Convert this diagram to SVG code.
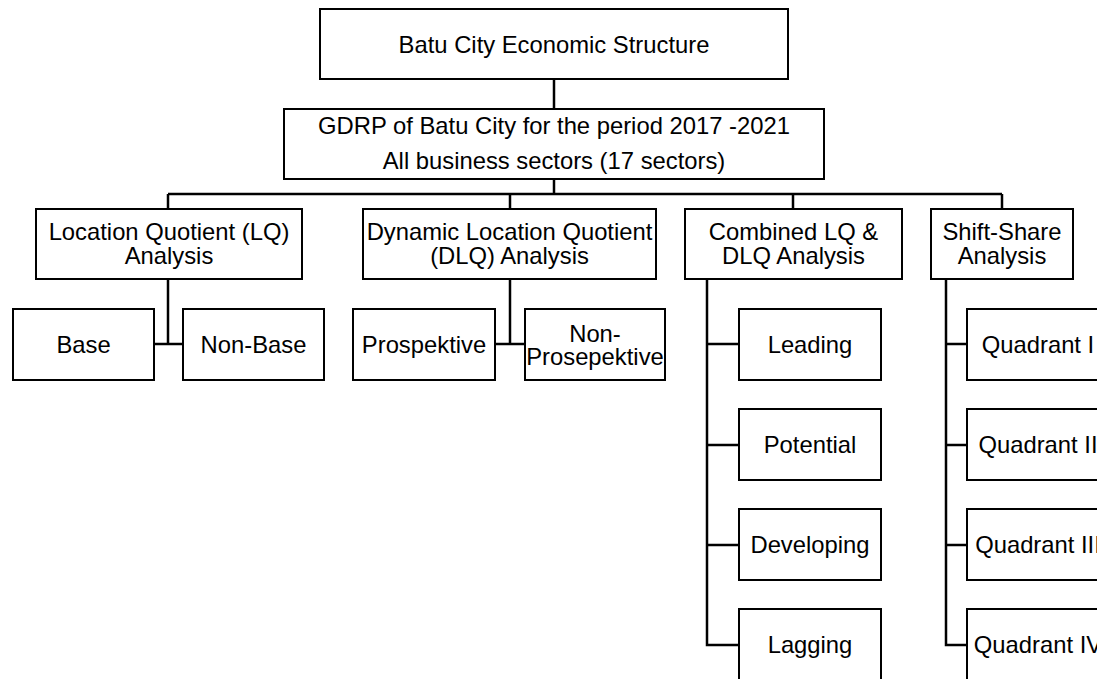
<svg xmlns="http://www.w3.org/2000/svg" width="1097" height="679" viewBox="0 0 1097 679">
<style>
rect{fill:#fff;stroke:#000;stroke-width:2}
text{font-family:"Liberation Sans",Arial,sans-serif;font-size:23.8px;fill:#000;text-anchor:middle}
.c line,.c path{stroke:#000;stroke-width:2.5;fill:none}
</style>
<rect x="0" y="0" width="1097" height="679" style="stroke:none"/>
<g class="c" id="connectors">
<line x1="554" y1="79" x2="554" y2="109"/>
<line x1="554" y1="179" x2="554" y2="194"/>
<line x1="168" y1="194" x2="1002" y2="194"/>
<line x1="168" y1="194" x2="168" y2="209"/>
<line x1="510" y1="194" x2="510" y2="209"/>
<line x1="793" y1="194" x2="793" y2="209"/>
<line x1="1002" y1="194" x2="1002" y2="209"/>
<line x1="168" y1="279" x2="168" y2="344"/>
<line x1="154" y1="344" x2="183" y2="344"/>
<line x1="510" y1="279" x2="510" y2="344"/>
<line x1="495" y1="344" x2="525" y2="344"/>
<path d="M707 279V645H739M707 344H739M707 445H739M707 545H739"/>
<path d="M946 279V645H967M946 344H967M946 445H967M946 545H967"/>
</g>
<g id="top"><rect x="320" y="9" width="468" height="70"/><text x="554" y="53">Batu City Economic Structure</text></g>
<g id="gdrp"><rect x="284" y="109" width="540" height="70"/><text x="554" y="134">GDRP of Batu City for the period 2017 -2021</text><text x="554" y="169">All business sectors (17 sectors)</text></g>
<g id="lq"><rect x="36" y="209" width="266" height="70"/><text x="169" y="240">Location Quotient (LQ)</text><text x="169" y="264">Analysis</text></g>
<g id="dlq"><rect x="363" y="209" width="293" height="70"/><text x="509.5" y="240">Dynamic Location Quotient</text><text x="509.5" y="264">(DLQ) Analysis</text></g>
<g id="combined"><rect x="685" y="209" width="217" height="70"/><text x="793.5" y="240">Combined LQ &amp;</text><text x="793.5" y="264">DLQ Analysis</text></g>
<g id="shiftshare"><rect x="931" y="209" width="142" height="70"/><text x="1002" y="240">Shift-Share</text><text x="1002" y="264">Analysis</text></g>
<g id="base"><rect x="13" y="309" width="141" height="71"/><text x="83.5" y="352.5">Base</text></g>
<g id="nonbase"><rect x="183" y="309" width="141" height="71"/><text x="253.5" y="352.5">Non-Base</text></g>
<g id="prospektive"><rect x="353" y="309" width="142" height="71"/><text x="424" y="352.5">Prospektive</text></g>
<g id="nonprospektive"><rect x="525" y="309" width="140" height="71"/><text x="595" y="342">Non-</text><text x="595" y="365">Prosepektive</text></g>
<g id="leading"><rect x="739" y="309" width="142" height="71"/><text x="810" y="352.5">Leading</text></g>
<g id="potential"><rect x="739" y="409" width="142" height="71"/><text x="810" y="452.5">Potential</text></g>
<g id="developing"><rect x="739" y="509" width="142" height="71"/><text x="810" y="552.5">Developing</text></g>
<g id="lagging"><rect x="739" y="609" width="142" height="71"/><text x="810" y="652.5">Lagging</text></g>
<g id="q1"><rect x="967" y="309" width="142" height="71"/><text x="1038" y="352.5">Quadrant I</text></g>
<g id="q2"><rect x="967" y="409" width="142" height="71"/><text x="1038" y="452.5">Quadrant II</text></g>
<g id="q3"><rect x="967" y="509" width="142" height="71"/><text x="1038" y="552.5">Quadrant III</text></g>
<g id="q4"><rect x="967" y="609" width="142" height="71"/><text x="1038" y="652.5">Quadrant IV</text></g>
</svg>
